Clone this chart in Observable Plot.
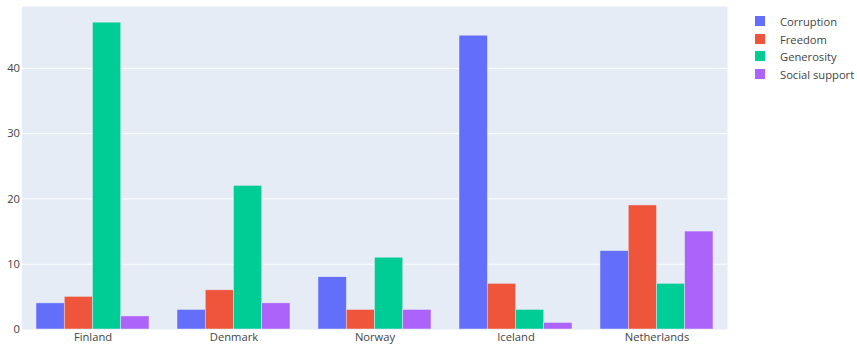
<!DOCTYPE html>
<html>
<head>
<meta charset="utf-8">
<script src="https://cdn.jsdelivr.net/npm/d3@7"></script>
<script src="https://cdn.jsdelivr.net/npm/@observablehq/plot@0.6"></script>
<style>
  body { margin: 0; background: white; font-family: 'Open Sans', sans-serif; }
  #wrap { position: relative; width: 857px; height: 347px; }
  #legend { position: absolute; left: 753px; top: 13px; font-size: 11.2px; color: #444; }
  .row { position: absolute; left: 0; white-space: nowrap; height: 17px; line-height: 17px; }
  .sw { position: absolute; left: 2px; top: 3px; width: 10px; height: 10px; }
  .lb { position: absolute; left: 27px; top: 0; }
</style>
</head>
<body>
<div id="wrap"><div id="chart"></div><div id="legend"></div></div>
<script>
const countries = ["Finland", "Denmark", "Norway", "Iceland", "Netherlands"];
const seriesNames = ["Corruption", "Freedom", "Generosity", "Social support"];
const corruption = [4, 3, 8, 45, 12];
const freedom = [5, 6, 3, 7, 19];
const generosity = [47, 22, 11, 3, 7];
const socialSupport = [2, 4, 3, 1, 15];
const colors = ["#636EFA", "#EF553B", "#00CC96", "#AB63FA"];
const yTicks = [0, 10, 20, 30, 40];

const seriesValues = [corruption, freedom, generosity, socialSupport];
const data = [];
seriesNames.forEach((s, i) => countries.forEach((c, j) => data.push({country: c, series: s, idx: i, value: seriesValues[i][j]})));

const width = 740, marginLeft = 21.5, marginRight = 13;
const step = (width - marginLeft - marginRight) / 5;
const bandwidth = step * 0.8;
const sub = bandwidth / 4;

const barMarks = seriesNames.map((s, i) =>
  Plot.barY(data.filter(d => d.series === s), {
    x: "country", y: "value", fill: colors[i],
    stroke: "#E5ECF6", strokeWidth: 0.5,
    insetLeft: i * sub, insetRight: (3 - i) * sub
  })
);

const chart = Plot.plot({
  width, height: 347,
  marginLeft, marginRight, marginTop: 6, marginBottom: 18,
  style: {fontFamily: "'Open Sans', sans-serif", fontSize: "11.2px", color: "#444", background: "white"},
  x: {domain: countries, paddingInner: 0.2, paddingOuter: 0.1, label: null, tickSize: 0, tickPadding: 4},
  y: {domain: [0, 49.47], ticks: yTicks, label: null, tickSize: 0, tickPadding: 2},
  marks: [
    Plot.frame({fill: "#E5ECF6", stroke: "none"}),
    Plot.ruleY(yTicks.filter(t => t > 0), {stroke: "white", strokeWidth: 1}),
    ...barMarks
  ]
});
document.getElementById("chart").appendChild(chart);

const legend = document.getElementById("legend");
seriesNames.forEach((s, i) => {
  const row = document.createElement("div");
  row.className = "row";
  row.style.top = (i * 17.5) + "px";
  row.innerHTML = `<span class="sw" style="background:${colors[i]}"></span><span class="lb">${s}</span>`;
  legend.appendChild(row);
});
</script>
</body>
</html>
